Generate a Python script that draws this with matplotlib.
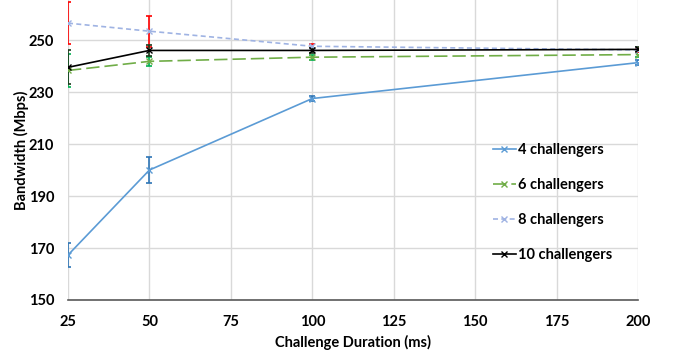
import numpy as np
import matplotlib
matplotlib.use('Agg')
from matplotlib import pyplot as plt

plt.rcParams['font.family'] = ['Lato', 'DejaVu Sans']
plt.rcParams['font.weight'] = 'bold'

# 数据
duration = [25, 50, 100, 200]
labels = ['4 challengers', '6 challengers', '8 challengers', '10 challengers']
bw4 = [167.3, 200.0, 227.5, 241.3]
err4 = [4.5, 5.0, 0.8, 1.0]
bw6 = [238.3, 241.8, 243.4, 244.4]
err6 = [6.5, 1.8, 1.0, 1.0]
bw8 = [256.5, 253.4, 247.6, 246.2]
err8 = [8.0, 6.0, 0.8, 0.8]
bw10 = [239.5, 246.0, 246.0, 246.4]
err10 = [6.5, 2.0, 0.8, 0.8]

xticks = [25, 50, 75, 100, 125, 150, 175, 200]
yticks = [150, 170, 190, 210, 230, 250]

fig = plt.figure(figsize=(6.78, 3.51), dpi=100)
ax = fig.add_axes([0.1003, 0.1453, 0.8407, 0.8547])

series = [
    (bw4, err4, '#5b9bd5', '-', '#2e75b6'),
    (bw6, err6, '#70ad47', (0, (8, 3)), '#00b050'),
    (bw8, err8, '#9fb3e3', (0, (3, 2)), '#ff0000'),
    (bw10, err10, '#000000', '-', '#1a3a1a'),
]
for (y, e, c, ls, ec), lab in zip(series, labels):
    ax.errorbar(duration, y, yerr=e, fmt='none', ecolor=ec, elinewidth=1.2,
                capsize=2, capthick=1.2, zorder=3)
    ax.plot(duration, y, color=c, linestyle=ls, linewidth=1.2, marker='x',
            markersize=4, markeredgewidth=1, label=lab, zorder=4)

ax.set_xlim(25, 200)
ax.set_ylim(150, 265.4)
ax.set_xticks(xticks)
ax.set_yticks(yticks)
ax.tick_params(axis='x', length=0, labelsize=10.5, pad=11)
ax.tick_params(axis='y', length=0, labelsize=10.5, pad=10)
ax.grid(True, color='#d9d9d9', linewidth=1)
ax.set_axisbelow(True)
for s in ['top', 'right', 'left']:
    ax.spines[s].set_visible(False)
ax.spines['bottom'].set_color('#595959')
ax.spines['bottom'].set_linewidth(1.2)

ax.set_xlabel('Challenge Duration (ms)', fontsize=10.5, fontweight='bold', labelpad=4)
ax.set_ylabel('Bandwidth (Mbps)', fontsize=10.5, fontweight='bold', labelpad=0)

leg = ax.legend(loc='center left', bbox_to_anchor=(0.722, 0.325), frameon=False,
                fontsize=10.5, labelspacing=1.45, handlelength=1.6, handletextpad=0.15)

plt.savefig('out.png', dpi=100)
